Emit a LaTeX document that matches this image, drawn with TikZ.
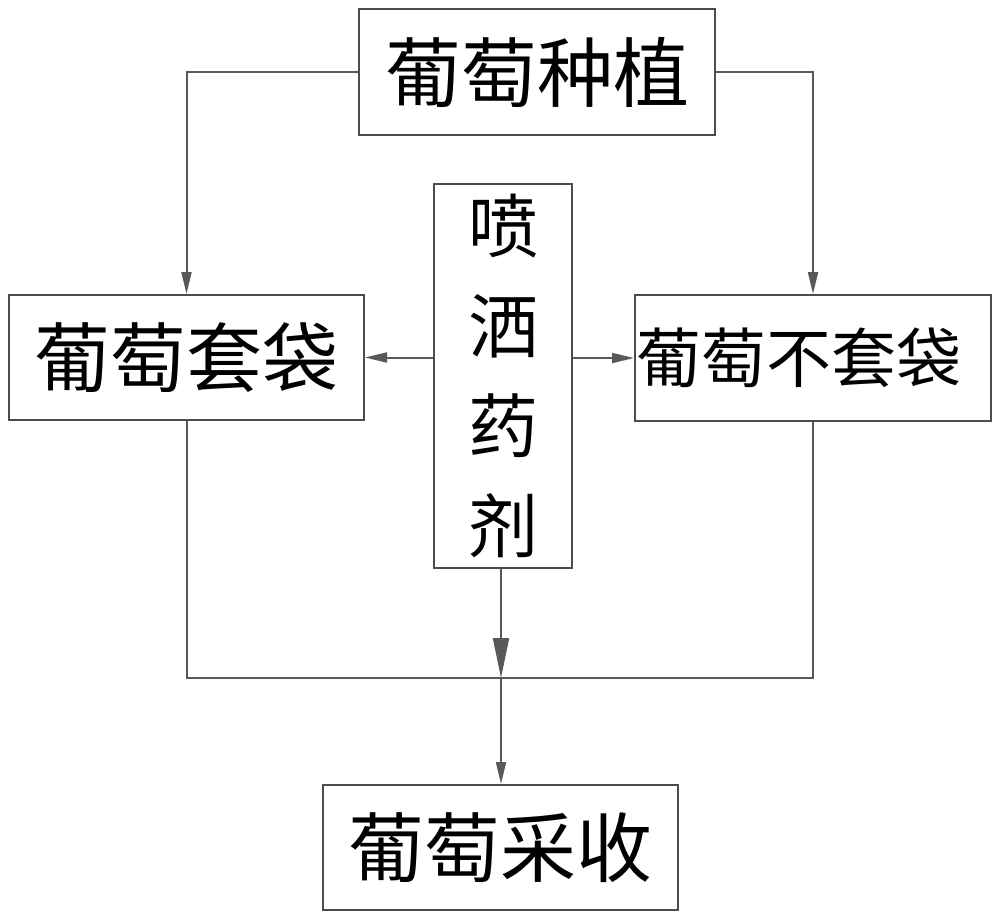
\documentclass[tikz,border=0pt]{standalone}
\usepackage{fontspec}
\newfontfamily\cjk{Noto Sans CJK SC}[Scale=1]
\usetikzlibrary{arrows.meta}
\tikzset{
  box/.style={draw=black!70, line width=2pt, fill=white, inner sep=0pt, font=\cjk},
  conn/.style={draw=black!65, line width=2pt},
  arr/.style={conn, -{Triangle[length=22pt,width=10pt]}},
  bigarr/.style={conn, -{Triangle[length=40pt,width=16pt]}}
}
\begin{document}
\begin{tikzpicture}[x=1pt,y=-1pt]
\useasboundingbox (0,0) rectangle (1000,921);
\node[box, minimum width=356pt, minimum height=126pt, font=\cjk\fontsize{76}{76}\selectfont] (top) at (537,72) {葡萄种植};
\node[box, minimum width=355pt, minimum height=125pt, font=\cjk\fontsize{76}{76}\selectfont] (left) at (186.5,357.5) {葡萄套袋};
\node[box, minimum width=356pt, minimum height=126pt, font=\cjk\fontsize{65}{65}\selectfont] (right) at (813,358) {\raisebox{6pt}{葡萄不套袋}\hspace{28pt}\null};
\node[box, minimum width=138pt, minimum height=384pt, align=center, font=\cjk\fontsize{70}{100}\selectfont] (mid) at (503,376) {喷\\洒\\药\\剂};
\node[box, minimum width=355pt, minimum height=125pt, font=\cjk\fontsize{76}{76}\selectfont] (bot) at (500.5,847.5) {葡萄采收};
\coordinate (j) at (501,678);
\draw[arr] (top.west) -| (left.north);
\draw[arr] (top.east) -| (right.north);
\draw[arr] (mid.west |- left.east) -- (left.east);
\draw[arr] (mid.east |- right.west) -- (right.west);
\draw[bigarr] (mid.south -| j) -- (j);
\draw[conn] (left.south) |- (j) -| (right.south);
\draw[arr] (j) -- (j |- bot.north);
\end{tikzpicture}
\end{document}
